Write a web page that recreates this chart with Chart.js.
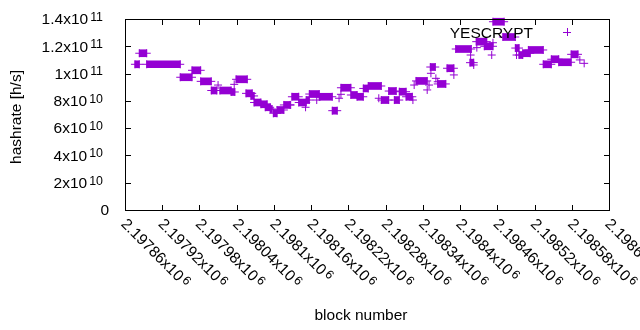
<!DOCTYPE html>
<html>
<head>
<meta charset="utf-8">
<script src="https://cdn.jsdelivr.net/npm/chart.js@4"></script>
<style>
  html, body { margin: 0; padding: 0; background: #fff; }
  #wrap { position: relative; width: 640px; height: 330px; }
  canvas { display: block; }
  #box { position: absolute; box-sizing: border-box; border: 1px solid #000; pointer-events: none; }
</style>
</head>
<body>
<div id="wrap">
<canvas id="chart" width="640" height="330"></canvas>
<div id="box"></div>
</div>
<script>
// runs of consecutive blocks with the same hashrate (start block, end block, h/s)
const runStart = [2197876, 2197883, 2197895, 2197949, 2197968, 2197982, 2197999, 2198013, 2198031, 2198039,
  2198055, 2198063, 2198068, 2198079, 2198086, 2198094, 2198099, 2198105, 2198116, 2198129,
  2198140, 2198152, 2198157, 2198173, 2198194, 2198208, 2198224, 2198234, 2198244, 2198252,
  2198273, 2198285, 2198294, 2198302, 2198313, 2198329, 2198352, 2198364, 2198379, 2198393,
  2198416, 2198426, 2198439, 2198453, 2198469, 2198489, 2198495, 2198501, 2198510, 2198534,
  2198547, 2198559, 2198579];
const runEnd = [2197883, 2197895, 2197949, 2197968, 2197982, 2197999, 2198008, 2198031, 2198037, 2198057,
  2198065, 2198068, 2198079, 2198089, 2198094, 2198097, 2198105, 2198116, 2198126, 2198140,
  2198152, 2198157, 2198173, 2198194, 2198202, 2198224, 2198234, 2198244, 2198252, 2198273,
  2198285, 2198297, 2198302, 2198313, 2198323, 2198347, 2198360, 2198377, 2198390, 2198418,
  2198422, 2198443, 2198453, 2198471, 2198489, 2198495, 2198501, 2198513, 2198534, 2198547,
  2198559, 2198579, 2198590];
const runRate = [106.8e9, 114.9e9, 106.8e9, 97.3e9, 102.4e9, 94.3e9, 87.6e9, 87.6e9, 86.5e9, 95.8e9,
  85.5e9, 83.6e9, 78.8e9, 77.5e9, 75.3e9, 74.0e9, 70.9e9, 73.3e9, 77.0e9, 83.0e9,
  78.8e9, 80.6e9, 85.0e9, 83.0e9, 72.8e9, 89.6e9, 84.3e9, 83.0e9, 89.1e9, 90.9e9,
  80.6e9, 87.2e9, 80.6e9, 86.7e9, 83.0e9, 94.6e9, 104.8e9, 92.4e9, 103.9e9, 118.0e9,
  108.0e9, 123.4e9, 120.0e9, 138.0e9, 126.8e9, 118.7e9, 113.6e9, 114.9e9, 117.3e9, 106.8e9,
  110.5e9, 108.3e9, 114.1e9];

// single blocks standing alone
const pointBlock = [2198010, 2198036, 2198127, 2198151, 2198169, 2198205, 2198208, 2198269, 2198324, 2198326,
  2198347, 2198350, 2198353, 2198361, 2198364, 2198390, 2198417, 2198422, 2198427, 2198451,
  2198453, 2198491, 2198593, 2198600];
const pointRate = [91.6e9, 92.1e9, 77.0e9, 75.3e9, 80.6e9, 81.9e9, 84.8e9, 81.9e9, 80.6e9, 91.6e9,
  88.0e9, 91.6e9, 100.2e9, 96.5e9, 94.0e9, 99.0e9, 113.6e9, 106.3e9, 119.0e9, 113.6e9,
  122.6e9, 113.6e9, 110.0e9, 107.5e9];

const yTickValues = [0, 2e10, 4e10, 6e10, 8e10, 1e11, 1.2e11, 1.4e11];
const yTickLabels = ["0", "2x10^10", "4x10^10", "6x10^10", "8x10^10", "1x10^11", "1.2x10^11", "1.4x10^11"];
const xTickValues = [2197860, 2197920, 2197980, 2198040, 2198100, 2198160, 2198220,
  2198280, 2198340, 2198400, 2198460, 2198520, 2198580, 2198640];
const xTickLabels = ["2.19786x10^6", "2.19792x10^6", "2.19798x10^6", "2.19804x10^6", "2.1981x10^6",
  "2.19816x10^6", "2.19822x10^6", "2.19828x10^6", "2.19834x10^6", "2.1984x10^6",
  "2.19846x10^6", "2.19852x10^6", "2.19858x10^6", "2.19864x10^6"];

const PURPLE = "#9400d3";
const FONT = "'Liberation Sans', Arial, sans-serif";
const FS = 15.5;

const xMin = xTickValues[0], xMax = xTickValues[xTickValues.length - 1];
const yMin = yTickValues[0], yMax = yTickValues[yTickValues.length - 1];

const crossData = [];
runStart.forEach((s, i) => {
    crossData.push({ x: s, y: runRate[i] });
    crossData.push({ x: runEnd[i], y: runRate[i] });
});
pointBlock.forEach((b, i) => crossData.push({ x: b, y: pointRate[i] }));

// text with gnuplot style superscript, "a^b"
function drawSup(ctx, label, x, baseline, align) {
    const [m, e] = label.split("^");
    ctx.font = FS + "px " + FONT;
    const mw = ctx.measureText(m).width;
    let ew = 0;
    if (e) {
        ctx.font = (FS * 0.8) + "px " + FONT;
        ew = ctx.measureText(e).width + 2;
    }
    let x0 = align === "right" ? x - mw - ew : x;
    ctx.textAlign = "left";
    ctx.textBaseline = "alphabetic";
    ctx.font = FS + "px " + FONT;
    ctx.fillText(m, x0, baseline);
    if (e) {
        ctx.font = (FS * 0.8) + "px " + FONT;
        ctx.fillText(e, x0 + mw + 2, baseline - 3.5);
    }
}

// border box with inward tics on all four sides
function drawFrame(chart) {
    const ctx = chart.ctx;
    const x = chart.scales.x, y = chart.scales.y;
    const L = Math.round(x.getPixelForValue(xMin)), R = Math.round(x.getPixelForValue(xMax));
    const B = Math.round(y.getPixelForValue(yMin)), T = Math.round(y.getPixelForValue(yMax));
    ctx.save();
    ctx.strokeStyle = "#000";
    ctx.lineWidth = 1;
    ctx.beginPath();
    ctx.rect(L + 0.5, T + 0.5, R - L, B - T);
    yTickValues.forEach(v => {
        const py = Math.round(y.getPixelForValue(v)) + 0.5;
        ctx.moveTo(L, py); ctx.lineTo(L + 6, py);
        ctx.moveTo(R + 1, py); ctx.lineTo(R - 5, py);
    });
    xTickValues.forEach(v => {
        const px = Math.round(x.getPixelForValue(v)) + 0.5;
        ctx.moveTo(px, B + 1); ctx.lineTo(px, B - 5);
        ctx.moveTo(px, T); ctx.lineTo(px, T + 6);
    });
    ctx.stroke();
    ctx.restore();

    // same box as an html overlay, placed from the scales
    const box = document.getElementById("box");
    box.style.left = L + "px";
    box.style.top = T + "px";
    box.style.width = (R - L + 1) + "px";
    box.style.height = (B - T + 1) + "px";
}

const gnuplotLook = {
    id: "gnuplotLook",
    beforeDatasetsDraw(chart) {
        drawFrame(chart);
    },
    afterDraw(chart) {
        const ctx = chart.ctx;
        const x = chart.scales.x, y = chart.scales.y;
        ctx.save();
        ctx.fillStyle = "#000";
        yTickValues.forEach((v, i) => {
            const py = y.getPixelForValue(v);
            const lab = yTickLabels[i];
            drawSup(ctx, lab, lab.includes("^") ? 103 : 109, py + 5.3, "right");
        });
        xTickValues.forEach((v, i) => {
            const px = x.getPixelForValue(v);
            ctx.save();
            ctx.translate(px - 1, 221);
            ctx.rotate(Math.PI / 4);
            drawSup(ctx, xTickLabels[i], 0, 5.3, "left");
            ctx.restore();
        });
        // axis titles
        ctx.font = FS + "px " + FONT;
        ctx.textAlign = "center";
        ctx.textBaseline = "middle";
        ctx.fillText("block number", 361, 316);
        ctx.save();
        ctx.translate(17, 117);
        ctx.rotate(-Math.PI / 2);
        ctx.fillText("hashrate [h/s]", 0, 0);
        ctx.restore();
        // key
        ctx.textAlign = "right";
        ctx.textBaseline = "alphabetic";
        ctx.fillText(chart.data.datasets[1].label, 533, 37.5);
        ctx.strokeStyle = PURPLE;
        ctx.lineWidth = 1;
        ctx.beginPath();
        ctx.moveTo(563, 32.5); ctx.lineTo(571, 32.5);
        ctx.moveTo(567.5, 28); ctx.lineTo(567.5, 36);
        ctx.stroke();
        ctx.restore();
    }
};

new Chart(document.getElementById("chart"), {
    type: "scatter",
    data: {
        datasets: [
            {
                type: "bar",
                label: "runs",
                indexAxis: "y",
                data: runStart.map((s, i) => ({ x: [s, runEnd[i]], y: runRate[i] })),
                backgroundColor: PURPLE,
                borderWidth: 0,
                barThickness: 7,
                clip: false,
            },
            {
                label: "YESCRYPT",
                data: crossData,
                pointStyle: "cross",
                pointRadius: 4,
                pointBorderWidth: 1,
                pointBorderColor: PURPLE,
                pointBackgroundColor: PURPLE,
                clip: false,
            },
        ],
    },
    options: {
        responsive: false,
        animation: false,
        layout: { padding: { left: 125, right: 31, top: 19, bottom: 120 } },
        plugins: { legend: { display: false }, tooltip: { enabled: false } },
        scales: {
            x: {
                type: "linear",
                min: xMin,
                max: xMax,
                offset: false,
                ticks: { display: false },
                grid: { display: false, drawTicks: false, offset: false },
                border: { display: false },
            },
            y: {
                type: "linear",
                min: yMin,
                max: yMax,
                offset: false,
                ticks: { display: false },
                grid: { display: false, drawTicks: false, offset: false },
                border: { display: false },
            },
        },
    },
    plugins: [gnuplotLook],
});
</script>
</body>
</html>
